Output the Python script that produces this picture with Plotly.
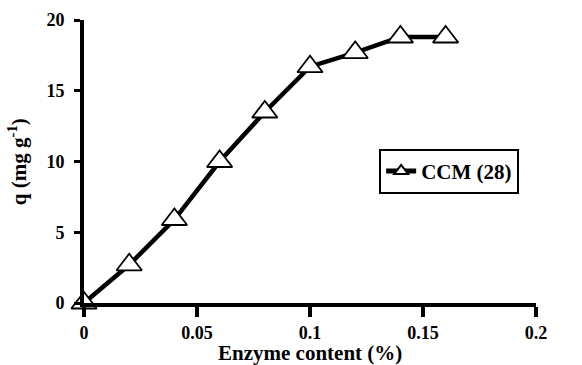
import plotly.graph_objects as go

# Enzyme content (%) and adsorbed amount q (mg g^-1)
enzyme_content = [0.0, 0.02, 0.04, 0.06, 0.08, 0.10, 0.12, 0.14, 0.16]
q_values = [0.0, 2.7, 5.9, 10.0, 13.5, 16.7, 17.7, 18.8, 18.8]
series_name = "CCM (28)"

x_ticks = [0, 0.05, 0.1, 0.15, 0.2]
x_tick_text = ["0", "0.05", "0.1", "0.15", "0.2"]
y_ticks = [0, 5, 10, 15, 20]

x_title = "Enzyme content (%)"
y_title = "q (mg g<sup>-1</sup>)"

fig = go.Figure()
fig.add_trace(go.Scatter(
    x=enzyme_content,
    y=q_values,
    mode="lines+markers",
    name=series_name,
    line=dict(color="black", width=4.5),
    marker=dict(symbol="triangle-up", size=22, color="white",
                line=dict(color="black", width=1.8)),
    cliponaxis=False,
))

fig.update_layout(
    width=582, height=365,
    margin=dict(l=84, r=46, t=20, b=62),
    plot_bgcolor="white", paper_bgcolor="white",
    font=dict(family="Liberation Serif", size=18, color="black", weight="bold"),
    showlegend=True,
    legend=dict(
        x=0.653, y=0.545, xanchor="left", yanchor="top",
        bordercolor="black", borderwidth=2, bgcolor="white",
        font=dict(size=21, family="Liberation Serif", weight="bold"),
        itemsizing="constant",
    ),
    xaxis=dict(
        range=[0, 0.2], tickvals=x_ticks, ticktext=x_tick_text,
        showgrid=False, zeroline=False, automargin=False,
        showline=True, linecolor="black", linewidth=4,
        ticks="outside", ticklen=10, tickwidth=4, tickcolor="black",
        tickfont=dict(size=18),
    ),
    yaxis=dict(
        range=[0, 20], tickvals=y_ticks,
        showgrid=False, zeroline=False, automargin=False,
        showline=True, linecolor="black", linewidth=4,
        ticks="outside", ticklen=6, tickwidth=3, tickcolor="black",
        tickfont=dict(size=18), ticklabelstandoff=6,
    ),
    annotations=[
        dict(text=x_title, xref="paper", yref="paper", x=0.5, y=-0.176,
             xanchor="center", yanchor="middle", showarrow=False,
             font=dict(size=21)),
        dict(text=y_title, xref="paper", yref="paper", x=-0.148, y=0.498,
             xanchor="center", yanchor="middle", showarrow=False,
             textangle=-90, font=dict(size=21)),
    ],
)

fig.write_html("out.html")
